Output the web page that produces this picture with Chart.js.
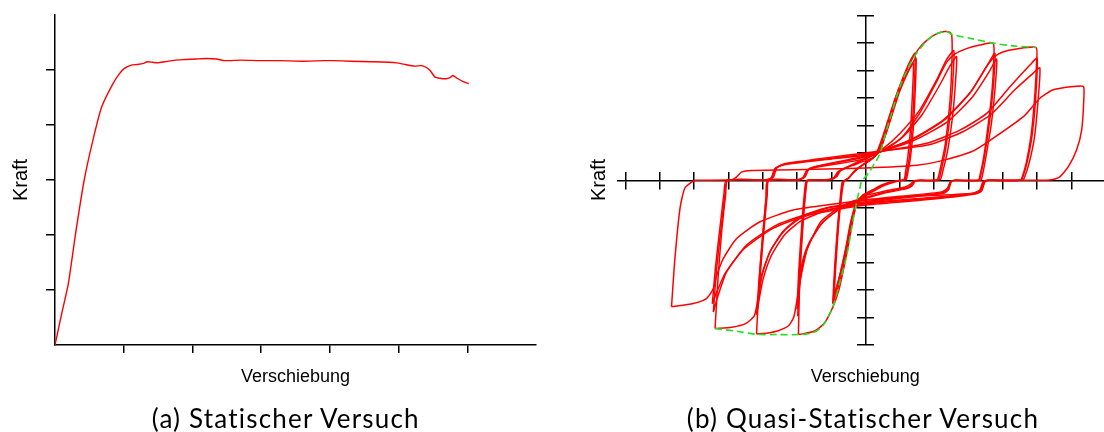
<!DOCTYPE html>
<html>
<head>
<meta charset="utf-8">
<script src="https://cdn.jsdelivr.net/npm/chart.js@4/dist/chart.umd.min.js"></script>
<style>
  body { margin: 0; background: #fff; width: 1104px; height: 432px; overflow: hidden; position: relative; }
  canvas { position: absolute; top: 0; }
  .label { position: absolute; font-family: "Liberation Sans", Arial, sans-serif; font-size: 18px; line-height: 18px; color: #000; white-space: nowrap; text-align: center; }
  .kraft { font-size: 20px; line-height: 20px; }
  .caption { position: absolute; font-family: Lato, "Noto Sans", sans-serif; font-size: 26px; line-height: 26px; letter-spacing: 1.2px; color: #000; white-space: nowrap; text-align: center; }
</style>
</head>
<body>
<canvas id="statisch" width="550" height="432" style="left:0"></canvas>
<canvas id="zyklisch" width="554" height="432" style="left:550px"></canvas>

<div class="label kraft" style="left:-30.5px; top:170px; width:100px; transform:rotate(-90deg)">Kraft</div>
<div class="label" style="left:195.5px; top:366.5px; width:200px">Verschiebung</div>
<div class="caption" style="left:85.8px; top:405px; width:400px">(a) Statischer Versuch</div>

<div class="label kraft" style="left:547.5px; top:170px; width:100px; transform:rotate(-90deg)">Kraft</div>
<div class="label" style="left:765.3px; top:366.5px; width:200px">Verschiebung</div>
<div class="caption" style="left:663px; top:405px; width:400px">(b) Quasi-Statischer Versuch</div>

<script>
// (a) statischer Versuch
const staticX = [0, 0.093, 0.195, 0.30, 0.425, 0.553, 0.68, 0.834, 0.93, 1.01, 1.11, 1.2, 1.29, 1.34, 1.42, 1.50, 1.6, 1.75, 1.9, 2.05, 2.21, 2.35, 2.47, 2.7, 2.98, 3.3, 3.6, 3.9, 4.05, 4.3, 4.6, 4.97, 5.1, 5.23, 5.33, 5.4, 5.46, 5.53, 5.6, 5.69, 5.75, 5.79, 5.85, 5.94, 6.02];
const staticY = [0, 0.545, 1.12, 2.03, 3.0, 3.73, 4.33, 4.73, 4.92, 5.03, 5.09, 5.1, 5.12, 5.15, 5.14, 5.13, 5.15, 5.18, 5.19, 5.2, 5.21, 5.2, 5.17, 5.18, 5.17, 5.17, 5.16, 5.17, 5.17, 5.16, 5.15, 5.13, 5.1, 5.07, 5.08, 5.05, 4.99, 4.87, 4.85, 4.84, 4.86, 4.90, 4.85, 4.79, 4.75];

// (b) quasi-statischer Versuch, Umhuellende (gestrichelt)
const envelope = [[-4.39,-5.4],[-3.76,-5.5],[-3.18,-5.61],[-2.59,-5.62],[-1.96,-5.62],[-1.53,-5.55],[-1.24,-5.28],[-0.94,-4.55],[-0.75,-3.70],[-0.55,-2.73],[-0.41,-1.75],[-0.26,-0.78],[-0.17,-0.29],[-0.12,-0.05],[0.08,0.26],[0.32,0.74],[0.42,0.98],[0.61,1.84],[0.76,2.44],[0.90,3.05],[1.10,3.72],[1.39,4.45],[1.68,4.94],[1.92,5.24],[2.17,5.39],[2.38,5.42],[2.51,5.32],[3.04,5.18],[3.72,5.0],[4.30,4.90],[4.97,4.84]];

// Zyklen, Stufe 1
const loop1a = [[-0.94,-4.4],[-0.88,-3.0],[-0.8,-1.6],[-0.72,-0.6],[-0.66,-0.05],[-0.5,0.08],[-0.35,0.3],[-0.1,0.55],[0.15,0.75],[0.35,1.0],[0.55,1.7],[0.72,2.4],[0.88,3.05],[1.08,3.72],[1.28,4.3],[1.44,4.63],[1.42,3.5],[1.36,2.0],[1.28,0.9],[1.2,0.3],[1.15,0.04],[0.9,-0.02],[0.6,-0.12],[0.3,-0.3],[0.0,-0.5],[-0.2,-0.75],[-0.36,-1.3],[-0.52,-2.3],[-0.7,-3.4],[-0.85,-4.1],[-0.94,-4.4]];
const loop1b = [[-0.92,-4.2],[-0.86,-2.9],[-0.78,-1.5],[-0.7,-0.55],[-0.63,-0.04],[-0.48,0.1],[-0.32,0.35],[-0.05,0.6],[0.2,0.8],[0.42,1.1],[0.62,1.8],[0.8,2.5],[0.98,3.2],[1.18,3.8],[1.36,4.25],[1.47,4.45],[1.45,3.4],[1.39,1.9],[1.31,0.85],[1.23,0.28],[1.18,0.03],[0.9,-0.04],[0.55,-0.18],[0.25,-0.38],[-0.05,-0.58],[-0.25,-0.85],[-0.4,-1.4],[-0.56,-2.4],[-0.72,-3.3],[-0.86,-3.95],[-0.92,-4.2]];
const loop1c = [[-0.96,-4.5],[-0.9,-3.1],[-0.82,-1.7],[-0.74,-0.65],[-0.68,-0.06],[-0.52,0.06],[-0.38,0.25],[-0.15,0.5],[0.1,0.7],[0.3,0.95],[0.5,1.6],[0.68,2.3],[0.85,2.95],[1.05,3.55],[1.25,4.0],[1.39,4.27],[1.37,3.3],[1.31,1.9],[1.23,0.85],[1.16,0.28],[1.12,0.03],[0.85,-0.03],[0.5,-0.15],[0.2,-0.35],[-0.1,-0.55],[-0.3,-0.9],[-0.45,-1.6],[-0.6,-2.6],[-0.78,-3.6],[-0.9,-4.2],[-0.96,-4.5]];

// Stufe 2
const loop2a = [[-1.96,-5.62],[-1.92,-3.6],[-1.83,-1.7],[-1.74,-0.35],[-1.68,0],[-1.1,0.02],[-0.92,0.1],[-0.82,0.3],[-0.65,0.42],[-0.3,0.58],[0,0.72],[0.25,0.85],[0.45,1.2],[0.65,1.95],[0.85,2.8],[1.05,3.55],[1.3,4.3],[1.55,4.8],[1.8,5.12],[2.05,5.33],[2.3,5.42],[2.45,5.4],[2.51,5.3],[2.52,4.5],[2.46,2.9],[2.32,1.3],[2.17,0.4],[2.08,0.02],[1.55,0],[1.4,-0.03],[1.3,-0.15],[1.15,-0.24],[0.6,-0.38],[0,-0.55],[-0.22,-0.7],[-0.35,-1.3],[-0.48,-2.2],[-0.62,-3.1],[-0.78,-4.0],[-0.95,-4.6],[-1.2,-5.2],[-1.5,-5.5],[-1.96,-5.62]];
const loop2b = [[-1.98,-4.95],[-1.93,-3.4],[-1.84,-1.65],[-1.75,-0.3],[-1.7,0],[-1.05,0.03],[-0.88,0.12],[-0.78,0.32],[-0.6,0.45],[0,0.78],[0.5,1.15],[1.0,1.71],[1.58,2.57],[2.07,3.66],[2.36,4.4],[2.57,4.73],[2.55,3.8],[2.48,2.6],[2.34,1.2],[2.2,0.35],[2.12,0.02],[1.6,0],[1.42,-0.03],[1.32,-0.18],[1.18,-0.28],[0.5,-0.45],[0,-0.62],[-0.5,-0.82],[-0.75,-1.02],[-1.24,-1.51],[-1.62,-2.24],[-1.82,-2.97],[-1.92,-3.82],[-1.98,-4.95]];
const loop2c = [[-2.0,-4.7],[-1.95,-3.3],[-1.86,-1.6],[-1.77,-0.28],[-1.72,0],[-1.0,0.03],[-0.84,0.14],[-0.74,0.34],[-0.55,0.47],[0,0.82],[0.55,1.1],[1.1,1.6],[1.65,2.4],[2.15,3.45],[2.45,4.15],[2.65,4.51],[2.62,3.6],[2.55,2.5],[2.4,1.15],[2.25,0.33],[2.17,0.02],[1.62,0],[1.45,-0.03],[1.35,-0.2],[1.2,-0.3],[0.5,-0.48],[0,-0.66],[-0.5,-0.86],[-0.8,-1.08],[-1.3,-1.6],[-1.66,-2.3],[-1.85,-3.0],[-1.95,-3.85],[-2.0,-4.7]];

// Stufe 3
const loop3a = [[-3.18,-5.6],[-3.1,-3.6],[-3.0,-2.0],[-2.9,-0.6],[-2.85,0],[-2.0,0.02],[-1.83,0.1],[-1.72,0.35],[-1.5,0.46],[0,0.8],[1.0,1.5],[1.6,2.5],[2.07,3.6],[2.36,4.3],[2.6,4.6],[2.94,4.8],[3.33,4.93],[3.72,5.0],[3.73,4.2],[3.68,3.2],[3.58,2.1],[3.45,0.9],[3.33,0.15],[3.28,0],[2.6,0],[2.47,-0.05],[2.38,-0.3],[2.22,-0.42],[1.0,-0.58],[0,-0.72],[-0.7,-0.95],[-1.3,-1.5],[-1.7,-2.5],[-1.9,-3.6],[-2.02,-4.5],[-2.1,-5.0],[-2.25,-5.3],[-2.55,-5.48],[-2.85,-5.56],[-3.18,-5.6]];
const loop3b = [[-3.18,-4.9],[-3.1,-3.5],[-3.0,-2.0],[-2.9,-0.6],[-2.85,0],[-1.95,0.02],[-1.8,0.12],[-1.7,0.38],[-1.45,0.5],[0,0.86],[1.29,1.47],[2.26,2.2],[3.04,3.18],[3.53,4.15],[3.77,4.63],[3.72,3.4],[3.62,2.2],[3.48,0.98],[3.35,0.15],[3.3,0],[2.62,0],[2.48,-0.05],[2.4,-0.32],[2.25,-0.45],[1.0,-0.62],[0,-0.78],[-1.14,-1.02],[-1.92,-1.39],[-2.40,-1.88],[-2.79,-2.61],[-3.03,-3.46],[-3.13,-4.43],[-3.18,-4.9]];
const loop3c = [[-3.15,-4.7],[-3.07,-3.4],[-2.97,-1.9],[-2.87,-0.55],[-2.82,0],[-1.9,0.02],[-1.76,0.14],[-1.66,0.4],[-1.4,0.52],[0,0.9],[1.35,1.42],[2.35,2.1],[3.12,3.05],[3.6,3.95],[3.82,4.42],[3.77,3.3],[3.67,2.1],[3.52,0.95],[3.4,0.15],[3.35,0],[2.65,0],[2.5,-0.05],[2.42,-0.34],[2.28,-0.47],[1.0,-0.65],[0,-0.82],[-1.1,-1.08],[-1.88,-1.48],[-2.36,-1.98],[-2.74,-2.72],[-2.98,-3.55],[-3.1,-4.3],[-3.15,-4.7]];

// Stufe 4
const loop4a = [[-4.39,-5.4],[-4.3,-3.5],[-4.2,-1.9],[-4.08,-0.5],[-4.02,0],[-2.9,0.02],[-2.75,0.1],[-2.65,0.42],[-2.4,0.56],[-1,0.78],[0,0.92],[1.3,1.45],[2.3,2.2],[3.05,3.2],[3.5,4.1],[3.75,4.5],[4.0,4.68],[4.4,4.79],[4.97,4.84],[4.98,4.2],[4.92,2.9],[4.82,1.6],[4.68,0.62],[4.55,0.07],[4.5,0],[3.55,0],[3.42,-0.05],[3.33,-0.35],[3.15,-0.46],[2,-0.62],[0,-0.82],[-1.14,-1.0],[-1.92,-1.35],[-2.4,-1.85],[-2.79,-2.6],[-3.03,-3.5],[-3.15,-4.4],[-3.25,-4.95],[-3.5,-5.22],[-3.9,-5.35],[-4.39,-5.4]];
const loop4b = [[-4.44,-4.8],[-4.35,-3.3],[-4.22,-1.8],[-4.1,-0.5],[-4.03,0],[-2.85,0.02],[-2.72,0.12],[-2.62,0.45],[-2.35,0.6],[-1,0.8],[0,0.96],[1.78,1.35],[2.75,1.83],[3.53,2.44],[4.21,3.41],[4.79,4.2],[5.0,4.45],[4.95,2.85],[4.85,1.6],[4.7,0.62],[4.57,0.07],[4.52,0],[3.57,0],[3.44,-0.05],[3.35,-0.37],[3.17,-0.48],[2,-0.65],[0,-0.86],[-1.63,-1.21],[-2.60,-1.63],[-3.47,-2.36],[-4.05,-3.33],[-4.30,-4.19],[-4.44,-4.8]];
const loop4c = [[-4.47,-4.5],[-4.38,-3.2],[-4.25,-1.75],[-4.13,-0.48],[-4.06,0],[-2.8,0.02],[-2.68,0.14],[-2.58,0.47],[-2.3,0.62],[-1,0.84],[0,1.0],[1.85,1.3],[2.85,1.78],[3.65,2.4],[4.35,3.3],[4.88,3.9],[5.08,4.1],[5.02,2.8],[4.92,1.55],[4.76,0.6],[4.62,0.07],[4.57,0],[3.6,0],[3.47,-0.05],[3.38,-0.39],[3.2,-0.5],[2,-0.68],[0,-0.9],[-1.7,-1.28],[-2.7,-1.75],[-3.55,-2.5],[-4.1,-3.4],[-4.35,-4.1],[-4.47,-4.5]];

// Stufe 5
const loop5 = [[-5.66,-4.61],[-5.56,-2.84],[-5.41,-1.0],[-5.27,-0.28],[-5.03,-0.03],[-4.95,0],[-3.9,0.02],[-3.77,0.12],[-3.62,0.3],[-3.35,0.36],[-1.5,0.4],[0,0.45],[1.5,0.55],[2.17,0.7],[3.1,1.05],[3.62,1.45],[4.6,2.32],[5.08,2.99],[5.47,3.3],[6.05,3.42],[6.35,3.42],[6.36,2.93],[6.30,1.84],[6.15,1.11],[5.91,0.5],[5.66,0.13],[5.37,0.01],[5.0,0],[3.62,0],[3.48,-0.05],[3.38,-0.36],[3.2,-0.47],[1.5,-0.58],[0,-0.72],[-1.14,-0.9],[-2.11,-1.08],[-3.08,-1.51],[-3.76,-2.12],[-4.15,-2.85],[-4.34,-3.46],[-4.44,-3.94],[-4.64,-4.31],[-5.03,-4.49],[-5.66,-4.61]];

const loops = [loop1a, loop1b, loop1c, loop2a, loop2b, loop2c, loop3a, loop3b, loop3c, loop4a, loop4b, loop4c, loop5];

const RED = '#ff0000';
const GREEN = '#1ee01e';
const toPoints = pairs => pairs.map(([x, y]) => ({ x, y }));

const baseOpts = {
  responsive: false,
  animation: false,
  events: [],
  plugins: { legend: { display: false }, tooltip: { enabled: false } }
};

// Hilfsfunktion fuer eine Achse ohne Beschriftung
function axis(min, max, extra) {
  return Object.assign({
    type: 'linear',
    min: min,
    max: max,
    ticks: { display: false, stepSize: 1, includeBounds: false },
    grid: { drawOnChartArea: false, drawTicks: true, tickLength: 8, color: '#000', lineWidth: 1.5 },
    border: { display: true, color: '#000', width: 1.5 }
  }, extra);
}

new Chart(document.getElementById('statisch'), {
  type: 'scatter',
  data: {
    datasets: [{
      data: staticX.map((x, i) => ({ x, y: staticY[i] })),
      showLine: true,
      borderColor: RED,
      borderWidth: 1.4,
      pointRadius: 0,
      tension: 0.2
    }]
  },
  options: Object.assign({}, baseOpts, {
    layout: { padding: { top: 15, right: 14, left: 0, bottom: 0 } },
    scales: {
      x: axis(0, 7, {
        afterFit: s => { s.height = 87; },
        afterBuildTicks: s => { s.ticks = s.ticks.filter(t => t.value > 0 && t.value < 7); }
      }),
      y: axis(0, 6, {
        afterFit: s => { s.width = 55; },
        afterBuildTicks: s => { s.ticks = s.ticks.filter(t => t.value > 0 && t.value < 6); },
        grid: { drawOnChartArea: false, tickLength: 9, color: '#000', lineWidth: 1.5 }
      })
    }
  })
});

const dropZero = s => { s.ticks = s.ticks.filter(t => t.value !== 0); };

const cycleSets = [{
  data: toPoints(envelope),
  showLine: true,
  borderColor: GREEN,
  borderWidth: 1.6,
  borderDash: [7, 4],
  pointRadius: 0,
  tension: 0.3
}].concat(loops.map(l => ({
  data: toPoints(l),
  showLine: true,
  borderColor: RED,
  borderWidth: 1.5,
  pointRadius: 0,
  tension: 0.2
})));

new Chart(document.getElementById('zyklisch'), {
  type: 'scatter',
  data: { datasets: cycleSets },
  options: Object.assign({}, baseOpts, {
    layout: { padding: { top: 15.7, right: 0, left: 68, bottom: 87 } },
    scales: {
      x: axis(-7.22, 6.95, { position: { y: 0 }, afterFit: s => { s.height = 0; }, afterBuildTicks: dropZero }),
      x2: axis(-7.22, 6.95, {
        position: { y: 0 }, afterFit: s => { s.height = 0; }, afterBuildTicks: dropZero,
        grid: { drawOnChartArea: false, tickLength: -8, color: '#000', lineWidth: 1.5 },
        border: { display: false }
      }),
      y: axis(-6, 6, { position: { x: 0 }, afterFit: s => { s.width = 0; }, afterBuildTicks: dropZero }),
      y2: axis(-6, 6, {
        position: { x: 0 }, afterFit: s => { s.width = 0; }, afterBuildTicks: dropZero,
        grid: { drawOnChartArea: false, tickLength: -8, color: '#000', lineWidth: 1.5 },
        border: { display: false }
      })
    }
  })
});
</script>
</body>
</html>
